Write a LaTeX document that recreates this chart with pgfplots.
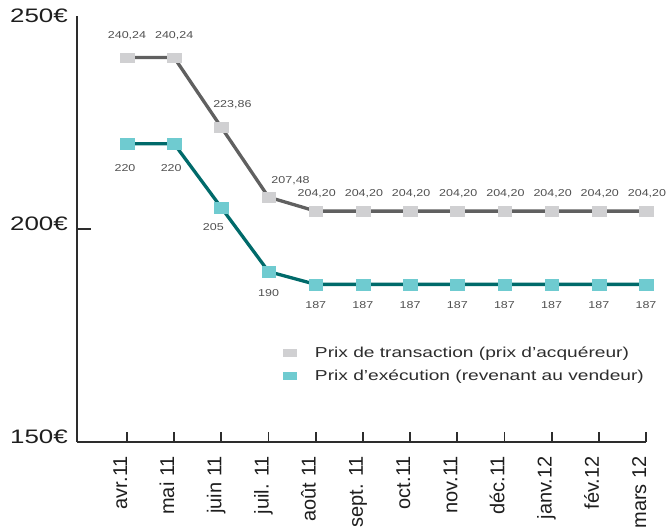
\documentclass[border=0pt]{standalone}
\usepackage{fontspec}
\setmainfont{Liberation Sans}[FakeStretch=1.33]
\newfontfamily\xfont{Liberation Sans}
\newfontfamily\datafont{Liberation Sans}[FakeStretch=1.25]
\usepackage{pgfplots}
\usepackage{pgfplotstable}
\pgfplotsset{compat=1.18}
\definecolor{graymark}{RGB}{208,208,210}
\definecolor{grayline}{RGB}{96,96,96}
\definecolor{tealmark}{RGB}{111,203,208}
\definecolor{tealline}{RGB}{0,106,106}
\definecolor{axiscol}{RGB}{45,45,45}
\definecolor{textcol}{RGB}{30,30,30}
\definecolor{labtext}{RGB}{80,80,80}
\definecolor{legtext}{RGB}{45,45,45}

\pgfplotstableread{
x y dx dy lab
0 240.24 0 22 240,24
1 240.24 0 22 240,24
2 223.86 11 23 223,86
3 207.48 22 16 207,48
4 204.20 1 17 204,20
5 204.20 1 17 204,20
6 204.20 1 17 204,20
7 204.20 1 17 204,20
8 204.20 1 17 204,20
9 204.20 1 17 204,20
10 204.20 1 17 204,20
11 204.20 1 17 204,20
}\grayt

\pgfplotstableread{
x y dx dy lab
0 220 -2 -24 220
1 220 -3 -24 220
2 205 -8 -19 205
3 190 0 -21 190
4 187 0 -21 187
5 187 0 -21 187
6 187 0 -21 187
7 187 0 -21 187
8 187 0 -21 187
9 187 0 -21 187
10 187 0 -21 187
11 187 0 -21 187
}\tealt

\begin{document}
\begin{tikzpicture}
\useasboundingbox (0,0) rectangle (670pt,531pt);
\begin{axis}[
  at={(77pt,89pt)}, anchor=south west,
  scale only axis, width=569pt, height=426pt,
  xmin=-1.06, xmax=11, ymin=150, ymax=250,
  clip=false,
  axis lines*=left,
  axis line style={line width=1.8pt, color=axiscol},
  xtick={0,...,11},
  xticklabels={avr.11, mai 11, juin 11, juil. 11, août 11, sept. 11, oct.11, nov.11, déc.11, janv.12, fév.12, mars 12},
  xticklabel style={rotate=90, anchor=base east, inner sep=0pt, font=\xfont\fontsize{20}{22}\selectfont, text=textcol},
  xticklabel shift=14pt,
  ytick={150,200}, yticklabels={150€,200€},
  extra y ticks={250}, extra y tick labels={250€},
  extra y tick style={major tick length=0pt, tick style={draw=none}, yticklabel style={yshift=-5.5pt}},
  yticklabel style={anchor=east, inner sep=0pt, yshift=5.5pt, font=\fontsize{19.5}{20}\selectfont, text=textcol},
  yticklabel shift=9pt,
  tick align=inside,
  xtick style={line width=1.8pt, color=axiscol, /pgfplots/major tick length=10pt},
  ytick style={line width=1.8pt, color=axiscol, /pgfplots/major tick length=14pt},
  legend cell align=left,
  legend style={at={(0.362,0.222)}, anchor=north west, draw=none, fill=none,
    inner sep=0pt, outer sep=0pt,
    font=\fontsize{14.4}{16}\selectfont, text=legtext, row sep=9.5pt,
    nodes={inner sep=0pt, text height=10.5pt, text depth=3pt}},
]
\addplot[color=grayline, line width=3.3pt, mark=square*, mark size=4.9pt,
  mark options={fill=graymark, draw=graymark, line width=0.2pt, xscale=1.4},
  point meta=explicit symbolic, nodes near coords,
  visualization depends on={\thisrow{dx}\as\dx},
  visualization depends on={\thisrow{dy}\as\dy},
  every node near coord/.append style={font=\datafont\fontsize{10}{12}\selectfont, text=labtext, anchor=center, inner sep=0pt, xshift=\dx pt, yshift=\dy pt},
  legend image code/.code={\fill[graymark, draw=none] (0pt,-2.75pt) rectangle (14pt,5.55pt); \path[draw=none, fill=none] (0pt,0pt) rectangle (32pt,0.1pt);}
] table[x=x, y=y, meta=lab] {\grayt};
\addlegendentry{Prix de transaction (prix d’acquéreur)}
\addplot[color=tealline, line width=3.3pt, mark=square*, mark size=5.4pt,
  mark options={fill=tealmark, draw=tealmark, line width=0.2pt, xscale=1.27},
  point meta=explicit symbolic, nodes near coords,
  visualization depends on={\thisrow{dx}\as\dx},
  visualization depends on={\thisrow{dy}\as\dy},
  every node near coord/.append style={font=\datafont\fontsize{10}{12}\selectfont, text=labtext, anchor=center, inner sep=0pt, xshift=\dx pt, yshift=\dy pt},
  legend image code/.code={\fill[tealmark, draw=none] (0pt,-2.75pt) rectangle (14pt,5.55pt); \path[draw=none, fill=none] (0pt,0pt) rectangle (32pt,0.1pt);}
] table[x=x, y=y, meta=lab] {\tealt};
\addlegendentry{Prix d’exécution (revenant au vendeur)}
\end{axis}
\end{tikzpicture}
\end{document}
